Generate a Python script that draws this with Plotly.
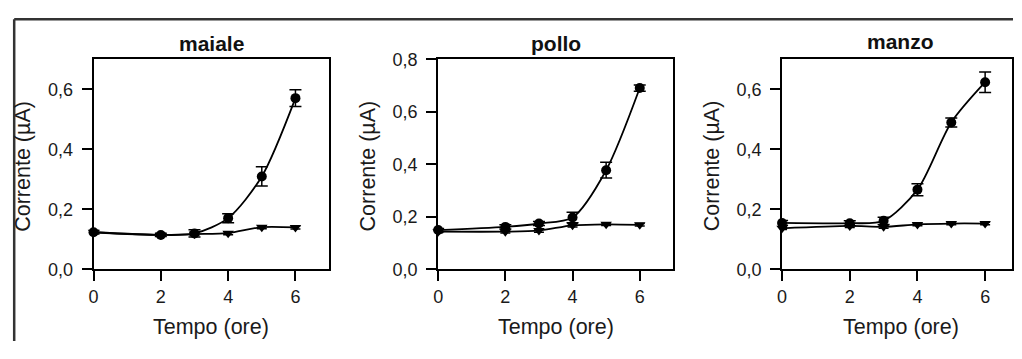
import plotly.graph_objects as go

# The page keeps the browser's default 8px body margin, so the figure is sized to
# fit inside the 1022x359 window and all positions are given relative to it.
OFF = 8
W, H = 1022 - 2 * OFF, 359 - 2 * OFF

# ---- data ----
tempo = [0, 2, 3, 4, 5, 6]
panels = ["maiale", "pollo", "manzo"]

maiale_cerchi = [0.124, 0.115, 0.120, 0.171, 0.310, 0.571]
maiale_cerchi_err = [0.006, 0.005, 0.012, 0.015, 0.032, 0.028]
maiale_triangoli = [0.124, 0.115, 0.118, 0.121, 0.141, 0.140]
maiale_triangoli_err = [0.004, 0.004, 0.004, 0.005, 0.005, 0.005]

pollo_cerchi = [0.150, 0.162, 0.175, 0.198, 0.378, 0.691]
pollo_cerchi_err = [0.006, 0.008, 0.008, 0.020, 0.030, 0.012]
pollo_triangoli = [0.144, 0.144, 0.148, 0.168, 0.172, 0.170]
pollo_triangoli_err = [0.004, 0.005, 0.006, 0.006, 0.005, 0.005]

manzo_cerchi = [0.155, 0.154, 0.162, 0.266, 0.490, 0.624]
manzo_cerchi_err = [0.008, 0.008, 0.012, 0.020, 0.015, 0.034]
manzo_triangoli = [0.137, 0.145, 0.142, 0.150, 0.153, 0.153]
manzo_triangoli_err = [0.004, 0.005, 0.005, 0.004, 0.004, 0.004]

y_max = [0.7, 0.8, 0.7]
y_ticks = [[0, 0.2, 0.4, 0.6], [0, 0.2, 0.4, 0.6, 0.8], [0, 0.2, 0.4, 0.6]]
y_ticktext = [["0,0", "0,2", "0,4", "0,6"], ["0,0", "0,2", "0,4", "0,6", "0,8"], ["0,0", "0,2", "0,4", "0,6"]]
x_ticks = [0, 2, 4, 6]
x_ticktext = ["0", "2", "4", "6"]
x_title = "Tempo (ore)"
y_title = "Corrente (µA)"

series = [
    (maiale_cerchi, maiale_cerchi_err, maiale_triangoli, maiale_triangoli_err),
    (pollo_cerchi, pollo_cerchi_err, pollo_triangoli, pollo_triangoli_err),
    (manzo_cerchi, manzo_cerchi_err, manzo_triangoli, manzo_triangoli_err),
]

# ---- layout geometry (page pixels of the reference) ----
box_x = [(89, 326), (435.7, 672.3), (781.7, 1020)]
box_top, box_bot = 52, 275
title_y = [35, 35, 33]
xtitle_y = 336
ytitle_y = 165

FONT = "Liberation Sans, Arial, sans-serif"
TXT = "#1a1a1a"


def px(p):
    return (p - OFF) / W


def py(p):
    return 1 - (p - OFF) / H


fig = go.Figure()
for i, (c, ce, t, te) in enumerate(series):
    ax = "" if i == 0 else str(i + 1)
    fig.add_trace(go.Scatter(
        x=tempo, y=t, error_y=dict(type="data", array=te, color="black", thickness=1.5, width=5),
        mode="lines+markers", line=dict(color="black", width=1.8, shape="spline", smoothing=0.8),
        marker=dict(symbol="triangle-down", size=10, color="black"),
        xaxis="x" + ax, yaxis="y" + ax, showlegend=False, cliponaxis=False))
    fig.add_trace(go.Scatter(
        x=tempo, y=c, error_y=dict(type="data", array=ce, color="black", thickness=1.5, width=6),
        mode="lines+markers", line=dict(color="black", width=1.8, shape="spline", smoothing=0.8),
        marker=dict(symbol="circle", size=10, color="black"),
        xaxis="x" + ax, yaxis="y" + ax, showlegend=False, cliponaxis=False))

    x0, x1 = box_x[i]
    # keep the x scale of the reference if the box has to be shortened at the window edge
    x1_fit = min(x1, OFF + W - 1)
    x_max = 7 * (x1_fit - x0) / (x1 - x0)
    fig.layout["xaxis" + ax] = dict(
        domain=[px(x0), px(x1_fit)], range=[0, x_max], tickvals=x_ticks, ticktext=x_ticktext,
        showline=True, linecolor="black", linewidth=2, mirror=True,
        ticks="outside", ticklen=10, tickwidth=2, tickcolor="black",
        showgrid=False, zeroline=False, anchor="y" + ax,
        tickfont=dict(family=FONT, size=18, color=TXT),
    )
    fig.layout["yaxis" + ax] = dict(
        domain=[py(box_bot), py(box_top)], range=[0, y_max[i]], tickvals=y_ticks[i], ticktext=y_ticktext[i],
        showline=True, linecolor="black", linewidth=2, mirror=True,
        ticks="outside", ticklen=10, tickwidth=2, tickcolor="black",
        showgrid=False, zeroline=False, anchor="x" + ax, ticklabelstandoff=5,
        tickfont=dict(family=FONT, size=18, color=TXT),
    )
    # panel title
    fig.add_annotation(
        text="<b>" + panels[i] + "</b>", xref="paper", yref="paper",
        x=px((x0 + x1) / 2), y=py(title_y[i]), xanchor="center", yanchor="middle",
        showarrow=False, font=dict(family=FONT, size=21, color="#111"))
    # x-axis title
    fig.add_annotation(
        text=x_title, xref="paper", yref="paper",
        x=px((x0 + x1) / 2), y=py(xtitle_y), xanchor="center", yanchor="middle",
        showarrow=False, font=dict(family=FONT, size=21.5, color=TXT))
    # y-axis title
    fig.add_annotation(
        text=y_title, xref="paper", yref="paper", textangle=-90,
        x=px(x0 - 71), y=py(ytitle_y), xanchor="center", yanchor="middle",
        showarrow=False, font=dict(family=FONT, size=21.5, color=TXT))

# outer frame (left and top edges)
fig.add_shape(type="line", xref="paper", yref="paper", x0=1.2 / W, x1=1.2 / W, y0=0, y1=1 - 1.2 / H,
              line=dict(color="#333", width=2.5))
fig.add_shape(type="line", xref="paper", yref="paper", x0=1.2 / W, x1=1, y0=1 - 1.2 / H, y1=1 - 1.2 / H,
              line=dict(color="#333", width=2.5))

fig.update_layout(
    width=W, height=H, margin=dict(l=0, r=0, t=0, b=0),
    paper_bgcolor="white", plot_bgcolor="white",
    font=dict(family=FONT, color=TXT), hovermode=False,
)

fig.write_html("out.html", config={"displayModeBar": False, "staticPlot": True})
